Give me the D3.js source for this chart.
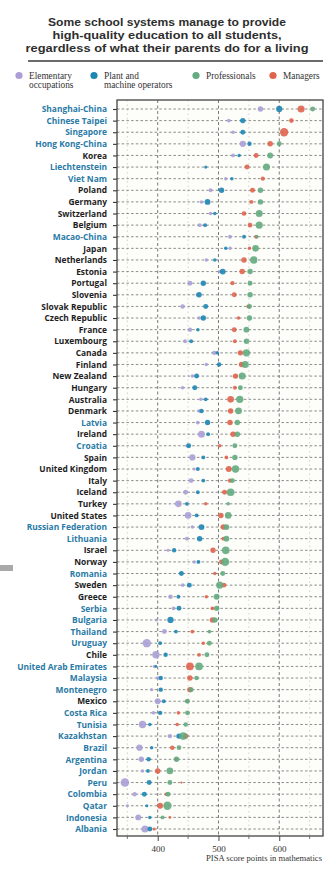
<!DOCTYPE html>
<html><head><meta charset="utf-8">
<script src="https://cdn.jsdelivr.net/npm/d3@7"></script>
<style>body{margin:0;background:#fff}</style>
</head><body><svg id="c" width="332" height="873"></svg>
<script>
const titleLines = ["Some school systems manage to provide","high-quality education to all students,","regardless of what their parents do for a living"];
const seriesNames = [["Elementary","occupations"],["Plant and","machine operators"],["Professionals"],["Managers"]];
const axisTitle = "PISA score points in mathematics";
const tickValues = [400, 500, 600];
const gridValues = [350, 400, 450, 500, 550, 600, 650];
const countries = ["Shanghai-China","Chinese Taipei","Singapore","Hong Kong-China","Korea","Liechtenstein","Viet Nam","Poland","Germany","Switzerland","Belgium","Macao-China","Japan","Netherlands","Estonia","Portugal","Slovenia","Slovak Republic","Czech Republic","France","Luxembourg","Canada","Finland","New Zealand","Hungary","Australia","Denmark","Latvia","Ireland","Croatia","Spain","United Kingdom","Italy","Iceland","Turkey","United States","Russian Federation","Lithuania","Israel","Norway","Romania","Sweden","Greece","Serbia","Bulgaria","Thailand","Uruguay","Chile","United Arab Emirates","Malaysia","Montenegro","Mexico","Costa Rica","Tunisia","Kazakhstan","Brazil","Argentina","Jordan","Peru","Colombia","Qatar","Indonesia","Albania"];
const partnerCountries = ["Shanghai-China","Chinese Taipei","Singapore","Hong Kong-China","Liechtenstein","Viet Nam","Macao-China","Latvia","Croatia","Russian Federation","Lithuania","Romania","Serbia","Bulgaria","Thailand","Uruguay","United Arab Emirates","Malaysia","Montenegro","Costa Rica","Tunisia","Kazakhstan","Brazil","Argentina","Jordan","Peru","Colombia","Qatar","Indonesia","Albania"];
// mean scores
const elementary    = [569,517,524,540,524,null,512,487,472,487,469,519,519,480,502,453,465,441,468,453,445,493,480,457,441,471,468,466,472,448,457,460,455,446,434,450,457,448,417,460,438,441,421,426,398,411,382,397,395,400,390,400,393,375,420,370,373,375,346,362,350,368,379];
const plantOps      = [600,540,540,551,534,479,522,505,482,494,478,542,512,494,507,475,468,479,475,466,455,498,501,464,461,479,472,482,483,451,475,466,475,466,448,464,472,469,427,467,439,452,434,435,421,430,404,413,397,405,405,410,404,387,435,390,385,384,386,378,382,387,387];
const professionals = [655,null,null,600,585,579,null,569,569,567,567,563,561,558,552,552,552,551,551,546,546,546,544,539,536,535,533,531,531,527,527,528,523,520,516,516,513,513,512,511,507,502,497,497,494,485,485,481,468,464,455,449,449,446,442,435,431,420,420,417,416,408,null];
const managers      = [636,620,608,585,562,547,573,556,554,542,552,562,551,542,539,523,526,549,533,526,527,536,538,528,527,520,520,519,524,502,513,517,519,510,479,504,508,508,491,505,494,509,480,490,490,457,475,468,453,453,453,448,434,432,446,424,430,400,439,414,404,420,394];
// share of students (dot size)
const elementaryShare    = [12,6,5,16,6,0,5,6,5,5,6,6,5,5,4,10,4,8,5,8,6,8,5,5,5,5,5,6,20,4,16,4,10,10,18,18,5,6,4,5,4,5,8,6,4,10,28,22,5,5,4,14,5,22,8,16,12,5,30,8,4,14,20];
const plantOpsShare      = [16,12,10,8,5,4,5,12,14,5,6,6,5,5,14,12,12,10,12,5,6,5,8,10,10,6,8,12,6,10,6,6,6,6,6,6,14,12,8,6,10,10,6,10,16,6,6,8,3,8,8,6,8,5,12,5,8,6,10,10,4,5,10];
const professionalsShare = [10,0,0,10,14,20,0,12,12,20,20,5,18,22,12,10,12,10,12,14,12,22,20,20,10,22,18,12,12,10,12,22,10,24,5,18,14,14,24,28,10,20,14,12,12,6,10,10,24,8,10,10,10,8,24,9,12,18,10,10,28,6,0];
const managersShare      = [20,9,28,12,10,10,7,10,6,9,9,6,5,12,12,7,10,6,5,10,6,12,12,12,6,18,12,12,12,5,6,14,8,10,5,12,12,6,12,10,5,9,5,6,12,6,5,6,24,12,12,5,5,5,12,8,5,12,2,5,14,3,4];

const svg = d3.select("#c");
const colors = ["#ab9ed6","#1d86b4","#63ab80","#e0634d"];
const labelBlue = "#2a7aa6";

// Title
const titleWidths = [238, 229, 283];
titleLines.forEach((t,i)=>{
  svg.append("text").attr("x",167).attr("y",25.5+i*13.3).attr("text-anchor","middle")
    .attr("font-family","Liberation Sans, Arial, sans-serif").attr("font-weight",700).attr("font-size",11.8)
    .attr("textLength",titleWidths[i]).attr("lengthAdjust","spacingAndGlyphs")
    .attr("fill","#2e2e2e").text(t);
});
svg.append("line").attr("x1",28).attr("x2",323).attr("y1",61).attr("y2",61).attr("stroke","#6b6b6b").attr("stroke-width",2);

// Legend
const legX = [19,94,196,273];
seriesNames.forEach((lines,i)=>{
  svg.append("circle").attr("cx",legX[i]).attr("cy",75.5).attr("r",3.6).attr("fill",colors[i]);
  lines.forEach((l,j)=>{
    svg.append("text").attr("x",legX[i]+10).attr("y",78.5+j*9.5)
      .attr("font-family","Liberation Serif, serif").attr("font-size",9.3).attr("fill","#333").text(l);
  });
});

// Scales
const x = d3.scaleLinear().domain([333,672]).range([117,323]);
const y = d3.scalePoint().domain(countries).range([109,829]);
const r = d3.scaleSqrt().domain([0,30]).range([0,4.3]);
const plotTop = 100, plotBottom = 836;

svg.append("rect").attr("x",117).attr("y",plotTop).attr("width",206).attr("height",plotBottom-plotTop).attr("fill","#fdfdf9");

// vertical grid
gridValues.forEach(v=>{
  const major = tickValues.includes(v);
  svg.append("line").attr("x1",x(v)).attr("x2",x(v)).attr("y1",plotTop).attr("y2",plotBottom)
    .attr("stroke",major?"#555":"#b5b5b5").attr("stroke-width",major?0.8:0.6)
    .attr("stroke-dasharray",major?"3,2.5":"1.5,3");
});
// horizontal row lines
svg.append("g").selectAll("line").data(countries).join("line")
  .attr("x1",117).attr("x2",323).attr("y1",d=>y(d)).attr("y2",d=>y(d))
  .attr("stroke","#666").attr("stroke-width",0.75).attr("stroke-dasharray","2.5,2.2");

// y axis
const yAxis = d3.axisLeft(y).tickSize(4).tickPadding(6);
const yg = svg.append("g").attr("transform","translate(117,0)").call(yAxis);
yg.select(".domain").remove();
yg.selectAll(".tick line").attr("stroke","#333").attr("stroke-width",1.1);
yg.selectAll("text").attr("font-family","Open Sans, sans-serif").attr("font-weight",700)
  .attr("font-size",9).attr("fill",d=>partnerCountries.includes(d)?labelBlue:"#1e1e1e");
let maxW = 0;
yg.selectAll("text").each(function(){maxW=Math.max(maxW,this.getComputedTextLength());});
yg.selectAll("text").attr("font-size",9*90/maxW);

// x axis
const xAxis = d3.axisBottom(x).tickValues(tickValues).tickSize(5).tickPadding(5).tickFormat(d3.format("d"));
const xg = svg.append("g").attr("transform",`translate(0,${plotBottom})`).call(xAxis);
xg.select(".domain").remove();
xg.selectAll(".tick line").attr("stroke","#444");
xg.selectAll("text").attr("font-family","Liberation Serif, serif").attr("font-size",9).attr("fill","#333");
svg.append("g").selectAll("line").data(gridValues.filter(v=>!tickValues.includes(v))).join("line")
  .attr("x1",d=>x(d)).attr("x2",d=>x(d)).attr("y1",plotBottom).attr("y2",plotBottom+3).attr("stroke","#777");
svg.append("text").attr("x",322).attr("y",861).attr("text-anchor","end")
  .attr("font-family","Liberation Serif, serif").attr("font-size",8.6).attr("fill","#333").text(axisTitle);

// Plot border
svg.append("rect").attr("x",117).attr("y",plotTop).attr("width",206).attr("height",plotBottom-plotTop)
  .attr("fill","none").attr("stroke","#444").attr("stroke-width",1.3);

// dots: draw order purple, blue, red, green
const series = [
  {vals:elementary, share:elementaryShare, c:colors[0]},
  {vals:plantOps, share:plantOpsShare, c:colors[1]},
  {vals:managers, share:managersShare, c:colors[3]},
  {vals:professionals, share:professionalsShare, c:colors[2]}
];
series.forEach(s=>{
  const pts = countries.map((c,i)=>({c, v:s.vals[i], n:s.share[i]})).filter(d=>d.v!=null && d.n>0);
  svg.append("g").selectAll("circle").data(pts).join("circle")
    .attr("cx",d=>x(d.v)).attr("cy",d=>y(d.c)).attr("r",d=>r(d.n))
    .attr("fill",s.c).attr("fill-opacity",0.9);
});

// decorative page mark at left
svg.append("rect").attr("x",0).attr("y",565).attr("width",13).attr("height",6).attr("fill","#a9a9a9");
</script>
</body></html>
